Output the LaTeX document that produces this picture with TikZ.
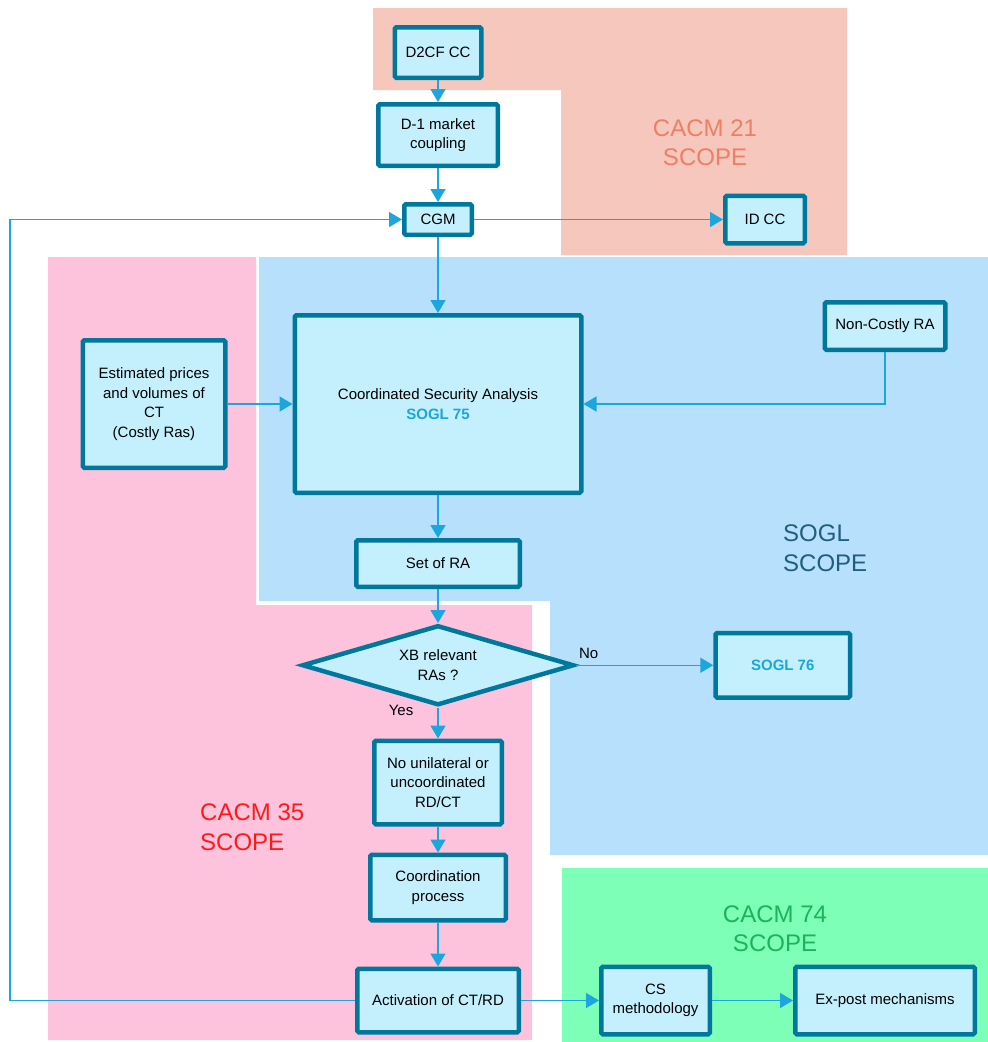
\documentclass[tikz,border=0pt]{standalone}
\usepackage{fontspec}
\setmainfont{Liberation Sans}
\usetikzlibrary{shapes.geometric, arrows.meta, positioning}

\definecolor{boxline}{HTML}{00789E}
\definecolor{boxfill}{HTML}{C4F0FD}
\definecolor{flowblue}{HTML}{1BA6DE}
\definecolor{cacmsalmon}{HTML}{F6C7BC}
\definecolor{cacmpink}{HTML}{FDC3DC}
\definecolor{soglblue}{HTML}{B7E0FC}
\definecolor{cacmgreen}{HTML}{7DFFB8}
\definecolor{salmontext}{HTML}{EE7F66}
\definecolor{sogltext}{HTML}{1F5E7C}
\definecolor{redtext}{HTML}{FF1A1A}
\definecolor{greentext}{HTML}{1DB35A}

\begin{document}
\begin{tikzpicture}[
    x=1pt, y=-1pt,
    node distance=30pt,
    process/.style={draw=boxline, line width=4.5pt, rounded corners=1.5pt, fill=boxfill, align=center, inner sep=2pt, font=\fontsize{15}{19.5}\selectfont},
    decision/.style={process, diamond, rounded corners=0pt, aspect=3.3},
    flow/.style={draw=flowblue, line width=1.5pt, -{Triangle[length=13pt,width=15pt]}},
    flowlabel/.style={inner sep=2pt, font=\fontsize{15}{18}\selectfont},
    scopelabel/.style={inner sep=0pt, font=\fontsize{24}{29.5}\selectfont}
]
    \useasboundingbox (0,0) rectangle (988,1042);
    \fill[white] (0,0) rectangle (988,1042);

    % Scope areas
    \fill[cacmsalmon] (373,8) -- (847,8) -- (847,255) -- (561,255) -- (561,90) -- (373,90) -- cycle;
    \fill[cacmpink] (48,257) -- (256,257) -- (256,605) -- (532,605) -- (532,1040) -- (48,1040) -- cycle;
    \fill[soglblue] (259,257) -- (988,257) -- (988,855) -- (550,855) -- (550,601) -- (259,601) -- cycle;
    \fill[cacmgreen] (562,868) rectangle (988,1042);

    % Scope labels
    \node[scopelabel, text=salmontext, align=center] (cacm21) at (705,142.5) {CACM 21\\SCOPE};
    \node[scopelabel, text=sogltext, align=left, anchor=west] (soglscope) at (783,548) {SOGL\\SCOPE};
    \node[scopelabel, text=redtext, align=left, anchor=west] (cacm35) at (200,827) {CACM 35\\SCOPE};
    \node[scopelabel, text=greentext, align=center] (cacm74) at (775,928.5) {CACM 74\\SCOPE};

    % Capacity calculation
    \node[process, minimum width=86.5pt, minimum height=50.5pt] (d2cf) at (438,52.5) {D2CF CC};
    \node[process, below=22pt of d2cf, minimum width=119.5pt, minimum height=61.5pt] (market) {D-1 market\\coupling};
    \node[process, below=34pt of market, minimum width=67.5pt, minimum height=30.5pt] (cgm) {CGM};
    \node[process, right=249pt of cgm, minimum width=79.5pt, minimum height=47.5pt] (idcc) {ID CC};

    % Security analysis
    \node[process, below=76pt of cgm, minimum width=286.5pt, minimum height=177.5pt] (csa) {Coordinated Security Analysis\\\textbf{\textcolor{flowblue}{SOGL 75}}};
    \node[process, left=65pt of csa, minimum width=142.5pt, minimum height=127.5pt] (est) {Estimated prices\\and volumes of\\CT\\(Costly Ras)};
    \node[process, right=239pt of csa, yshift=78pt, minimum width=120.5pt, minimum height=47.5pt] (noncostly) {Non-Costly RA};
    \node[process, below=43pt of csa, minimum width=163.5pt, minimum height=46.5pt] (setra) {Set of RA};

    % Decision
    \node[decision, below=34pt of setra, minimum width=272pt, minimum height=80pt] (xb) {XB relevant\\RAs ?};
    \node[process, right=137pt of xb, minimum width=134.5pt, minimum height=64.5pt] (sogl76) {\textbf{\textcolor{flowblue}{SOGL 76}}};

    % Remedial actions
    \node[process, below=31pt of xb, minimum width=127.5pt, minimum height=83.5pt] (nouni) {No unilateral or\\uncoordinated\\RD/CT};
    \node[process, below=26pt of nouni, minimum width=135.5pt, minimum height=65.5pt] (coord) {Coordination\\process};
    \node[process, below=44pt of coord, minimum width=161.5pt, minimum height=63.5pt] (activ) {Activation of CT/RD};
    \node[process, right=78pt of activ, minimum width=108.5pt, minimum height=67.5pt] (csm) {CS\\methodology};
    \node[process, right=81pt of csm, minimum width=179.5pt, minimum height=67.5pt] (expost) {Ex-post mechanisms};

    % Connectors
    \draw[flow] (d2cf) -- (market);
    \draw[flow] (market) -- (cgm);
    \draw[flow] (cgm) -- (idcc);
    \draw[flow] (cgm) -- (csa);
    \draw[flow] (est) -- (csa);
    \draw[flow] (noncostly) |- (csa);
    \draw[flow] (csa) -- (setra);
    \draw[flow] (setra) -- (xb);
    \draw[flow] (xb) -- node[flowlabel, pos=0, anchor=south west, yshift=4pt] (nolabel) {No} (sogl76);
    \draw[flow] (xb) -- node[flowlabel, pos=0, anchor=north east, xshift=-22pt, yshift=5pt] (yeslabel) {Yes} (nouni);
    \draw[flow] (nouni) -- (coord);
    \draw[flow] (coord) -- (activ);
    \draw[flow] (activ) -- (csm);
    \draw[flow] (csm) -- (expost);

    % Feedback loop
    \coordinate (loop) at (10,0);
    \draw[flow, line width=1.2pt] (activ) -- (activ -| loop) |- (cgm);
\end{tikzpicture}
\end{document}
